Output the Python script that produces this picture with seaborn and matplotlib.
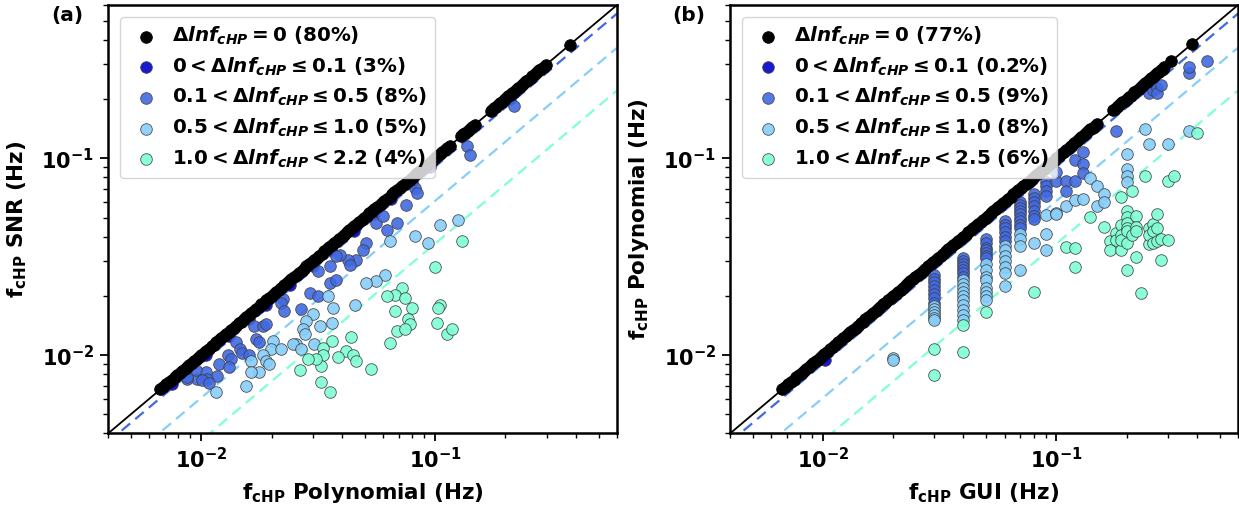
import numpy as np
import pandas as pd
import matplotlib
matplotlib.use("Agg")
import matplotlib.pyplot as plt
import seaborn as sns

# ---------------- data ----------------
# panel (a): x = f_cHP Polynomial, y = f_cHP SNR
a_black = [0.0067, 0.0069, 0.0071, 0.0073, 0.0075, 0.0077, 0.0079, 0.0081, 0.0083, 0.0085,
           0.0087, 0.0089, 0.0091, 0.0093, 0.0096, 0.0098, 0.0100, 0.0103, 0.0105, 0.0108,
           0.0111, 0.0113, 0.0116, 0.0119, 0.0122, 0.0125, 0.0128, 0.0131, 0.0134, 0.0138,
           0.0141, 0.0145, 0.0148, 0.0152, 0.0156, 0.0160, 0.0164, 0.0168, 0.0172, 0.0176,
           0.0181, 0.0185, 0.0190, 0.0195, 0.0200, 0.0205, 0.0210, 0.0215, 0.0220, 0.0226,
           0.0232, 0.0237, 0.0243, 0.0249, 0.0256, 0.0262, 0.0269, 0.0275, 0.0282, 0.0289,
           0.0297, 0.0304, 0.0312, 0.0320, 0.0328, 0.0336, 0.0344, 0.0353, 0.0362, 0.0371,
           0.0380, 0.0390, 0.0399, 0.0409, 0.0420, 0.0430, 0.0441, 0.0452, 0.0463, 0.0475,
           0.0487, 0.0499, 0.0511, 0.0524, 0.0537, 0.0551, 0.0565, 0.0579, 0.0593, 0.0608,
           0.0623, 0.0639, 0.0655, 0.0671, 0.0688, 0.0705, 0.0723, 0.0741, 0.0760, 0.0779,
           0.0798, 0.0818, 0.0839, 0.0860, 0.0881, 0.0903, 0.0926, 0.0949, 0.0973, 0.0997,
           0.1022, 0.1048, 0.1074, 0.110, 0.113, 0.116, 0.129, 0.132, 0.135, 0.138,
           0.141, 0.144, 0.148, 0.173, 0.176, 0.179, 0.182, 0.186, 0.190, 0.194,
           0.198, 0.202, 0.206, 0.210, 0.214, 0.218, 0.222, 0.226, 0.231, 0.236,
           0.241, 0.246, 0.251, 0.256, 0.261, 0.267, 0.273, 0.279, 0.285, 0.291,
           0.297, 0.378]
a_med_x = [0.0075, 0.0086, 0.0105, 0.0131, 0.0160, 0.0190, 0.0240, 0.0300, 0.0360, 0.0450,
           0.0550, 0.0650, 0.0800, 0.0950, 0.2100]
a_med_y = [0.00713, 0.00817, 0.00998, 0.01245, 0.0152, 0.01805, 0.0228, 0.0285, 0.0342, 0.04275,
           0.05225, 0.06175, 0.0760, 0.09025, 0.1995]
a_royal_x = [0.137, 0.141, 0.218, 0.0820, 0.0834, 0.0755, 0.0686, 0.0621, 0.0562, 0.0600,
             0.0509, 0.0492, 0.0461, 0.0425, 0.0432, 0.0391, 0.0378, 0.0354, 0.0315, 0.0291,
             0.0315, 0.0354, 0.0378, 0.0223, 0.0220, 0.0227, 0.0268, 0.0169, 0.0183, 0.0190,
             0.0172, 0.0177, 0.0141, 0.0146, 0.0150, 0.0161, 0.0130, 0.0134, 0.0119, 0.0132,
             0.0117, 0.0105, 0.0106, 0.00964, 0.0101, 0.00873, 0.00873, 0.0108, 0.00949]
a_royal_y = [0.1155, 0.104, 0.185, 0.0703, 0.0664, 0.0580, 0.0468, 0.0433, 0.0468, 0.0506,
             0.0371, 0.0343, 0.0305, 0.0305, 0.0288, 0.0324, 0.0318, 0.0282, 0.0267, 0.0207,
             0.0200, 0.0233, 0.0242, 0.0192, 0.0185, 0.0168, 0.0171, 0.0141, 0.0141, 0.0144,
             0.0121, 0.0116, 0.0116, 0.0107, 0.0103, 0.0100, 0.0100, 0.00955, 0.00901, 0.00867,
             0.00787, 0.00817, 0.00756, 0.00756, 0.0075, 0.00756, 0.0077, 0.00722, 0.0084]
a_light_x = [0.1259, 0.1050, 0.0935, 0.0820, 0.0641, 0.0609, 0.0562, 0.0509, 0.0454, 0.0366,
             0.0361, 0.0321, 0.0301, 0.0281, 0.0272, 0.0277, 0.0255, 0.0247, 0.0268, 0.0305,
             0.0202, 0.0199, 0.0220, 0.0183, 0.0190, 0.0196, 0.0177, 0.0163, 0.0163, 0.0156,
             0.0116, 0.0348]
a_light_y = [0.0486, 0.0459, 0.0371, 0.0401, 0.0378, 0.0256, 0.0237, 0.0233, 0.0179, 0.0174,
             0.0146, 0.0141, 0.0161, 0.0149, 0.0135, 0.0128, 0.0114, 0.0114, 0.0107, 0.0114,
             0.0118, 0.0107, 0.0107, 0.0100, 0.00936, 0.00901, 0.00817, 0.00936, 0.00817, 0.00700,
             0.00648, 0.0200]
a_aqua_x = [0.1304, 0.1000, 0.0719, 0.0673, 0.0621, 0.0743, 0.0794, 0.0673, 0.0767, 0.0782,
            0.0686, 0.0743, 0.0641, 0.1050, 0.1033, 0.1016, 0.1122, 0.1181, 0.0438, 0.0361,
            0.0418, 0.0446, 0.0461, 0.0385, 0.0332, 0.0332, 0.0327, 0.0310, 0.0286, 0.0264,
            0.0327, 0.0354, 0.0535]
a_aqua_y = [0.0378, 0.0281, 0.0220, 0.0203, 0.0200, 0.0194, 0.0174, 0.0168, 0.0152, 0.0144,
            0.0133, 0.0135, 0.0115, 0.0179, 0.0174, 0.0146, 0.0128, 0.0136, 0.0123, 0.0118,
            0.0105, 0.0100, 0.00936, 0.00973, 0.0109, 0.0100, 0.00883, 0.00955, 0.00955, 0.00843,
            0.00728, 0.00648, 0.00850]

# panel (b): x = f_cHP GUI, y = f_cHP Polynomial
b_black = [0.0067, 0.0069, 0.0071, 0.0073, 0.0075, 0.0077, 0.0079, 0.0081, 0.0083, 0.0085,
           0.0087, 0.0089, 0.0091, 0.0093, 0.0095, 0.0097, 0.0099, 0.0101, 0.0104, 0.0107,
           0.0110, 0.0113, 0.0116, 0.0119, 0.0122, 0.0125, 0.0128, 0.0131, 0.0134, 0.0138,
           0.0141, 0.0145, 0.0148, 0.0152, 0.0156, 0.0160, 0.0164, 0.0168, 0.0172, 0.0176,
           0.0181, 0.0185, 0.0190, 0.0195, 0.0200, 0.0205, 0.0210, 0.0215, 0.0220, 0.0226,
           0.0232, 0.0237, 0.0243, 0.0249, 0.0256, 0.0262, 0.0269, 0.0275, 0.0282, 0.0289,
           0.0297, 0.0304, 0.0312, 0.0320, 0.0328, 0.0336, 0.0344, 0.0353, 0.0362, 0.0371,
           0.0380, 0.0390, 0.0399, 0.0409, 0.0420, 0.0430, 0.0441, 0.0452, 0.0463, 0.0475,
           0.0487, 0.0499, 0.0511, 0.0524, 0.0537, 0.0551, 0.0565, 0.0579, 0.0593, 0.0608,
           0.0623, 0.0639, 0.0655, 0.0671, 0.0688, 0.0705, 0.0723, 0.0741, 0.0760, 0.0779,
           0.0798, 0.0818, 0.0839, 0.0860, 0.0881, 0.0903, 0.0926, 0.0949, 0.0973, 0.0997,
           0.1022, 0.1048, 0.1074, 0.110, 0.113, 0.116, 0.119, 0.122, 0.125, 0.128,
           0.131, 0.134, 0.137, 0.140, 0.143, 0.146, 0.150, 0.175, 0.178, 0.181,
           0.184, 0.188, 0.192, 0.196, 0.200, 0.204, 0.208, 0.212, 0.216, 0.220,
           0.225, 0.230, 0.235, 0.240, 0.245, 0.250, 0.255, 0.260, 0.265, 0.270,
           0.275, 0.280, 0.285, 0.290, 0.310, 0.380]
b_med_x = [0.0102]
b_med_y = [0.0094]
b_royal_x = [0.03, 0.03, 0.03, 0.03, 0.03, 0.03, 0.03, 0.03,
             0.04, 0.04, 0.04, 0.04, 0.04, 0.04, 0.04,
             0.05, 0.05, 0.05, 0.05, 0.05, 0.05, 0.05,
             0.06, 0.06, 0.06, 0.06, 0.06, 0.06,
             0.07, 0.07, 0.07, 0.07, 0.07, 0.07, 0.07, 0.07, 0.07,
             0.08, 0.08, 0.08, 0.08, 0.08, 0.08, 0.08,
             0.09, 0.09, 0.09, 0.09,
             0.10, 0.10, 0.11, 0.11, 0.12, 0.12, 0.13, 0.13, 0.13, 0.18,
             0.25, 0.26, 0.27, 0.27, 0.28, 0.37, 0.37, 0.44]
b_royal_y = [0.0255, 0.0245, 0.0235, 0.0225, 0.0215, 0.0205, 0.0195, 0.0185,
             0.031, 0.030, 0.029, 0.028, 0.027, 0.026, 0.025,
             0.039, 0.037, 0.035, 0.034, 0.033, 0.032, 0.031,
             0.048, 0.046, 0.044, 0.042, 0.040, 0.038,
             0.060, 0.058, 0.056, 0.054, 0.052, 0.050, 0.048, 0.046, 0.044,
             0.066, 0.063, 0.060, 0.057, 0.054, 0.051, 0.049,
             0.076, 0.072, 0.068, 0.064,
             0.077, 0.085, 0.077, 0.068, 0.0977, 0.077, 0.1077, 0.094, 0.084, 0.138,
             0.215, 0.222, 0.228, 0.215, 0.235, 0.271, 0.292, 0.310]
b_light_x = [0.02, 0.02,
             0.03, 0.03, 0.03, 0.03, 0.03, 0.03,
             0.04, 0.04, 0.04, 0.04, 0.04, 0.04, 0.04, 0.04, 0.04, 0.04,
             0.05, 0.05, 0.05, 0.05, 0.05, 0.05, 0.05, 0.05,
             0.06, 0.06, 0.06, 0.06, 0.06, 0.06, 0.06,
             0.07, 0.07, 0.07, 0.07,
             0.08, 0.09, 0.09, 0.09, 0.10, 0.10, 0.11, 0.12, 0.13, 0.14,
             0.15, 0.15, 0.16, 0.16, 0.20, 0.20, 0.20, 0.20, 0.24, 0.25, 0.30, 0.37]
b_light_y = [0.0097, 0.0094,
             0.0178, 0.0172, 0.0166, 0.0160, 0.0155, 0.0150,
             0.024, 0.023, 0.022, 0.021, 0.020, 0.019, 0.018, 0.017, 0.016, 0.015,
             0.029, 0.027, 0.025, 0.024, 0.022, 0.021, 0.020, 0.019,
             0.036, 0.034, 0.032, 0.030, 0.028, 0.026, 0.0225,
             0.041, 0.039, 0.036, 0.027,
             0.037, 0.0515, 0.0414, 0.034, 0.053, 0.0522, 0.0574, 0.0617, 0.0621, 0.0798,
             0.0725, 0.0574, 0.0658, 0.0597, 0.1047, 0.088, 0.0815, 0.0754, 0.140, 0.1177, 0.118, 0.138]
b_aqua_x = [0.03, 0.03, 0.04, 0.04, 0.05, 0.08, 0.11, 0.12, 0.12, 0.14,
            0.16, 0.17, 0.17, 0.18, 0.18, 0.19, 0.19, 0.19, 0.19, 0.19,
            0.20, 0.20, 0.20, 0.20, 0.20, 0.20, 0.20, 0.21, 0.21, 0.22,
            0.22, 0.22, 0.22, 0.23, 0.24, 0.25, 0.25, 0.25, 0.26, 0.26,
            0.26, 0.27, 0.27, 0.27, 0.28, 0.28, 0.30, 0.30, 0.32, 0.40]
b_aqua_y = [0.0108, 0.0079, 0.0142, 0.0104, 0.0166, 0.0210, 0.0356, 0.0351, 0.0281, 0.0501,
            0.0446, 0.0378, 0.0341, 0.0417, 0.0386, 0.0632, 0.0459, 0.0409, 0.0343, 0.0386,
            0.0542, 0.0501, 0.0468, 0.0441, 0.0425, 0.0371, 0.0272, 0.0684, 0.0409, 0.0506,
            0.0450, 0.0425, 0.0315, 0.0206, 0.0815, 0.0441, 0.0368, 0.0409, 0.0464, 0.0425,
            0.0371, 0.0521, 0.0382, 0.0441, 0.0303, 0.0390, 0.0769, 0.0386, 0.0815, 0.135]

# legend text values
thresholds = [0.1, 0.5, 1.0]
a_pct = ["80%", "3%", "8%", "5%", "4%"]
b_pct = ["77%", "0.2%", "9%", "8%", "6%"]
a_max, b_max = "2.2", "2.5"
x_labels = [r"$\mathrm{f_{cHP}}$ Polynomial (Hz)", r"$\mathrm{f_{cHP}}$ GUI (Hz)"]
y_labels = [r"$\mathrm{f_{cHP}}$ SNR (Hz)", r"$\mathrm{f_{cHP}}$ Polynomial (Hz)"]
panel_tags = ["(a)", "(b)"]
lims = [0.004, 0.6]

colors = ["black", "mediumblue", "royalblue", "lightskyblue", "aquamarine"]

# ---------------- style ----------------
sns.set_theme(style="ticks", rc={"axes.edgecolor": "black", "xtick.color": "black",
                                 "ytick.color": "black", "text.color": "black",
                                 "axes.labelcolor": "black"})
plt.rcParams.update({
    "font.family": ["DejaVu Sans"],
    "font.weight": "bold",
    "axes.labelweight": "bold",
    "mathtext.fontset": "custom",
    "mathtext.rm": "DejaVu Sans:bold",
    "mathtext.it": "DejaVu Sans:italic:bold",
    "mathtext.bf": "DejaVu Sans:bold",
    "mathtext.sf": "DejaVu Sans:bold",
})


def make_labels(pct, vmax):
    return [
        r"$\Delta lnf_{cHP} = 0$ (" + pct[0] + ")",
        r"$0 < \Delta lnf_{cHP} \leq 0.1$ (" + pct[1] + ")",
        r"$0.1 < \Delta lnf_{cHP} \leq 0.5$ (" + pct[2] + ")",
        r"$0.5 < \Delta lnf_{cHP} \leq 1.0$ (" + pct[3] + ")",
        r"$1.0 < \Delta lnf_{cHP} < " + vmax + "$ (" + pct[4] + ")",
    ]


fig = plt.figure(figsize=(12.39, 5.05), dpi=100)
ax_a = fig.add_axes([0.0872, 0.1416, 0.4108, 0.8485])
ax_b = fig.add_axes([0.5892, 0.1416, 0.4100, 0.8485])

panels = [
    (ax_a, a_black, [(a_med_x, a_med_y), (a_royal_x, a_royal_y), (a_light_x, a_light_y), (a_aqua_x, a_aqua_y)],
     make_labels(a_pct, a_max)),
    (ax_b, b_black, [(b_med_x, b_med_y), (b_royal_x, b_royal_y), (b_light_x, b_light_y), (b_aqua_x, b_aqua_y)],
     make_labels(b_pct, b_max)),
]

for i, (ax, blk, groups, labels) in enumerate(panels):
    ax.set_xscale("log")
    ax.set_yscale("log")
    lx = np.array(lims)
    ax.plot(lx, lx, color="black", lw=1.3, zorder=1)
    for t, c in zip(thresholds, colors[2:]):
        ax.plot(lx, lx * np.exp(-t), color=c, lw=1.6, ls=(0, (5, 3)), zorder=1)

    for (gx, gy), c, lab in zip(groups, colors[1:], labels[1:]):
        df = pd.DataFrame({"x": gx, "y": gy})
        sns.scatterplot(data=df, x="x", y="y", ax=ax, color=c, s=70, edgecolor="0.25",
                        linewidth=0.6, alpha=0.9, zorder=2, label=lab, legend=False)
    dfb = pd.DataFrame({"x": blk, "y": blk})
    sns.scatterplot(data=dfb, x="x", y="y", ax=ax, color="black", s=70, edgecolor="black",
                    linewidth=0.6, zorder=3, label=labels[0], legend=False)

    h, l = ax.get_legend_handles_labels()
    order = [l.index(lab) for lab in labels]
    leg = ax.legend([h[k] for k in order], [l[k] for k in order], loc="upper left",
                    fontsize=14.3, frameon=True, framealpha=0.8, edgecolor="0.8",
                    handlelength=1.8, handletextpad=0.4, borderpad=0.4,
                    labelspacing=0.42, borderaxespad=0.6)
    leg.set_zorder(5)

    ax.set_xlim(lims)
    ax.set_ylim(lims)
    ax.set_xlabel(x_labels[i], fontsize=15.5, fontweight="bold", labelpad=6)
    ax.set_ylabel(y_labels[i], fontsize=15.5, fontweight="bold", labelpad=9)
    ax.tick_params(which="major", length=6, width=1.3, labelsize=15, pad=4)
    ax.tick_params(which="minor", length=3.5, width=1.0)
    for lab in ax.get_xticklabels() + ax.get_yticklabels():
        lab.set_fontweight("bold")
    for sp in ax.spines.values():
        sp.set_linewidth(1.8)
        sp.set_color("black")
    ax.text(-0.049, 0.975, panel_tags[i], transform=ax.transAxes, ha="right", va="center",
            fontsize=14.5, fontweight="bold")

fig.savefig("out.png", dpi=100)
